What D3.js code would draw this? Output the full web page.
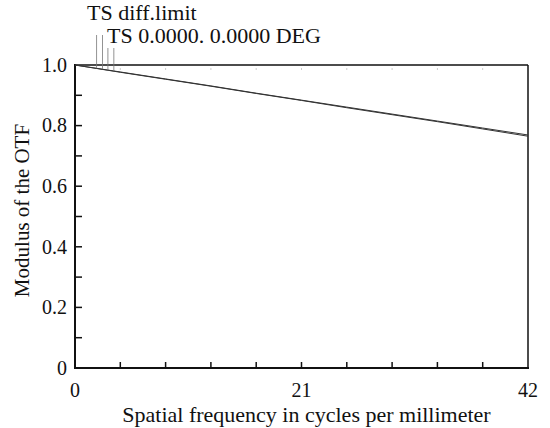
<!DOCTYPE html>
<html>
<head>
<meta charset="utf-8">
<script src="https://cdn.jsdelivr.net/npm/d3@7"></script>
<style>
  body { margin: 0; background: #fff; }
</style>
</head>
<body>
<div id="chart"></div>
<script>
// data
const freq = [0, 4.2, 8.4, 12.6, 16.8, 21, 25.2, 29.4, 33.6, 37.8, 42];
const diffLimit = [1.000, 0.977, 0.954, 0.931, 0.907, 0.884, 0.861, 0.838, 0.815, 0.792, 0.769];
const fieldTS   = [1.000, 0.976, 0.953, 0.930, 0.906, 0.883, 0.859, 0.836, 0.813, 0.789, 0.765];
const xTicks = [0, 4.2, 8.4, 12.6, 16.8, 21, 25.2, 29.4, 33.6, 37.8, 42];
const xLabels = [0, 21, 42];
const yTicks = [0, 0.1, 0.2, 0.3, 0.4, 0.5, 0.6, 0.7, 0.8, 0.9, 1.0];
const yLabels = [0, 0.2, 0.4, 0.6, 0.8, 1.0];
const legend = ["TS diff.limit", "TS 0.0000. 0.0000 DEG"];

const W = 550, H = 428;
const margin = { top: 65, right: 22, bottom: 60, left: 75 },
      width = W - margin.left - margin.right,
      height = H - margin.top - margin.bottom;

const serif = "Liberation Serif";

const svg = d3.select("#chart").append("svg")
  .attr("width", W).attr("height", H)
  .attr("font-family", serif);

const g = svg.append("g")
  .attr("transform", `translate(${margin.left},${margin.top})`);

const x = d3.scaleLinear().domain([0, 42]).range([0, width]);
const y = d3.scaleLinear().domain([0, 1]).range([height, 0]);

// inward ticks
g.append("g")
  .selectAll("line").data(yTicks.slice(1, -1)).join("line")
  .attr("x1", 0).attr("x2", 7)
  .attr("y1", d => y(d)).attr("y2", d => y(d))
  .attr("stroke", "#111").attr("stroke-width", 1.5);

g.append("g")
  .selectAll("line").data(xTicks.slice(1, -1)).join("line")
  .attr("x1", d => x(d)).attr("x2", d => x(d))
  .attr("y1", height).attr("y2", height - 6)
  .attr("stroke", "#111").attr("stroke-width", 1.5);

// faint marks under the top axis
g.append("g")
  .selectAll("line").data(xTicks.slice(1, -1)).join("line")
  .attr("x1", d => x(d)).attr("x2", d => x(d))
  .attr("y1", 3).attr("y2", 5)
  .attr("stroke", "#ccc").attr("stroke-width", 1);

// frame
g.append("line").attr("x1", 0).attr("x2", width).attr("y1", 0).attr("y2", 0)
  .attr("stroke", "#111").attr("stroke-width", 1.5);
g.append("line").attr("x1", width).attr("x2", width).attr("y1", 0).attr("y2", height)
  .attr("stroke", "#111").attr("stroke-width", 1.5);
g.append("line").attr("x1", 0).attr("x2", 0).attr("y1", -1).attr("y2", height + 1)
  .attr("stroke", "#111").attr("stroke-width", 2);
g.append("line").attr("x1", -1).attr("x2", width + 1).attr("y1", height).attr("y2", height)
  .attr("stroke", "#111").attr("stroke-width", 2);

// tick labels
g.selectAll(".ylab").data(yLabels).join("text")
  .attr("class", "ylab")
  .attr("x", -8).attr("y", d => y(d))
  .attr("dy", "0.34em")
  .attr("text-anchor", "end")
  .attr("font-family", serif)
  .attr("font-size", 20)
  .attr("fill", "#111")
  .text(d => d === 0 ? "0" : d3.format(".1f")(d));

g.selectAll(".xlab").data(xLabels).join("text")
  .attr("class", "xlab")
  .attr("x", d => x(d)).attr("y", height + 29)
  .attr("text-anchor", "middle")
  .attr("font-family", serif)
  .attr("font-size", 20)
  .attr("fill", "#111")
  .text(d => d);

// axis titles
g.append("text")
  .attr("x", width / 2 + 5).attr("y", height + 54)
  .attr("text-anchor", "middle")
  .attr("font-family", serif)
  .attr("font-size", 22)
  .attr("fill", "#111")
  .text("Spatial frequency in cycles per millimeter");

svg.append("text")
  .attr("transform", `translate(29,${margin.top + height / 2 - 6}) rotate(-90)`)
  .attr("text-anchor", "middle")
  .attr("font-family", serif)
  .attr("font-size", 21)
  .attr("fill", "#111")
  .text("Modulus of the OTF");

// curves
const line = d3.line().x((d, i) => x(freq[i])).y(d => y(d));
[diffLimit, fieldTS].forEach(s => {
  g.append("path")
    .attr("d", line(s))
    .attr("fill", "none")
    .attr("stroke", "#333")
    .attr("stroke-width", 1);
});

// legend with leader lines
svg.append("text").attr("x", 87).attr("y", 20)
  .attr("font-family", serif).attr("font-size", 22).attr("fill", "#111")
  .text(legend[0]);
svg.append("text").attr("x", 107).attr("y", 43)
  .attr("font-family", serif).attr("font-size", 22).attr("fill", "#111")
  .text(legend[1]);

const leaders = [
  { f: 2.0, top: 35, s: diffLimit },
  { f: 2.55, top: 35, s: diffLimit },
  { f: 3.05, top: 48, s: fieldTS },
  { f: 3.6, top: 48, s: fieldTS }
];
const interp = (s, f) => {
  const i = Math.min(Math.floor(f / 4.2), freq.length - 2);
  const t = (f - freq[i]) / (freq[i + 1] - freq[i]);
  return s[i] + t * (s[i + 1] - s[i]);
};
svg.selectAll(".leader").data(leaders).join("line")
  .attr("class", "leader")
  .attr("x1", d => margin.left + x(d.f)).attr("x2", d => margin.left + x(d.f))
  .attr("y1", d => d.top)
  .attr("y2", d => margin.top + y(interp(d.s, d.f)))
  .attr("stroke", "#777").attr("stroke-width", 0.8);
</script>
</body>
</html>
